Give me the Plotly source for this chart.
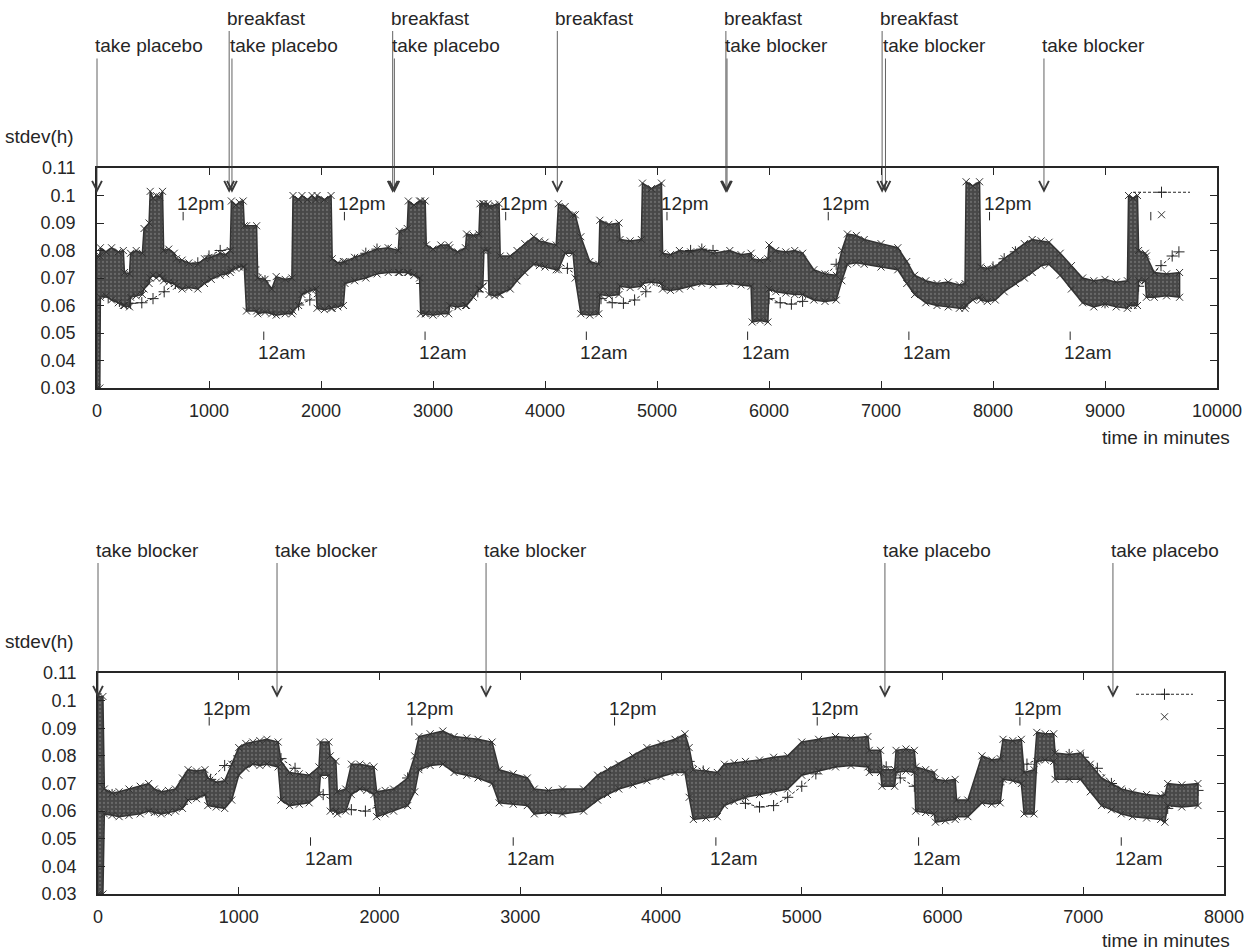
import plotly.graph_objects as go

FONT = "Liberation Sans, Arial, Helvetica, sans-serif"
INK = "#262626"
BAND_FILL = "#484848"
BAND_EDGE = "#333333"
W, H = 1257, 952

# ---------------- upper recording (placebo -> blocker) ----------------
# envelope of the per-minute stdev(h) samples: time, lower edge, upper edge
top_t = [0, 25, 30, 80, 130, 190, 235, 245, 290, 300, 350, 405, 420, 465, 475, 500, 530, 560, 585, 595,
         640, 690, 710, 760, 820, 900, 960, 1020, 1100, 1150, 1190, 1200, 1240, 1270, 1305, 1315, 1335,
         1425, 1435, 1500, 1560, 1600, 1680, 1740, 1750, 1800, 1830, 1880, 1920, 1955, 1965, 2030, 2090,
         2100, 2150, 2200, 2215, 2300, 2400, 2500, 2600, 2690, 2700, 2770, 2780, 2830, 2880, 2890, 2930,
         2940, 3000, 3070, 3140, 3150, 3220, 3290, 3300, 3360, 3410, 3420, 3445, 3455, 3490, 3500, 3550,
         3590, 3600, 3690, 3750, 3820, 3900, 3950, 4000, 4100, 4120, 4180, 4250, 4270, 4320, 4400, 4480,
         4490, 4570, 4660, 4670, 4760, 4860, 4870, 4950, 5040, 5050, 5120, 5200, 5300, 5400, 5500, 5650,
         5750, 5840, 5850, 5920, 5990, 6000, 6060, 6150, 6230, 6300, 6400, 6500, 6600, 6650, 6700, 6780,
         6850, 7000, 7150, 7230, 7300, 7400, 7500, 7600, 7700, 7750, 7760, 7820, 7880, 7890, 7950, 8020,
         8100, 8200, 8280, 8350, 8430, 8500, 8600, 8700, 8800, 8900, 9000, 9100, 9200, 9210, 9250, 9290,
         9300, 9360, 9370, 9440, 9550, 9666]
top_lo = [0.030, 0.030, 0.063, 0.0635, 0.062, 0.061, 0.060, 0.060, 0.0595, 0.063, 0.0635, 0.064, 0.066, 0.068, 0.070, 0.071, 0.070, 0.071, 0.070, 0.069,
          0.0685, 0.068, 0.067, 0.066, 0.0665, 0.066, 0.068, 0.0695, 0.071, 0.0715, 0.072, 0.073, 0.0735, 0.074, 0.074, 0.074, 0.058,
          0.058, 0.057, 0.0575, 0.057, 0.0565, 0.057, 0.057, 0.058, 0.060, 0.064, 0.065, 0.0655, 0.066, 0.059, 0.0585, 0.059,
          0.059, 0.0595, 0.060, 0.068, 0.069, 0.070, 0.0715, 0.072, 0.072, 0.072, 0.072, 0.072, 0.071, 0.070, 0.057, 0.057,
          0.057, 0.0565, 0.057, 0.057, 0.060, 0.0595, 0.060, 0.060, 0.063, 0.066, 0.066, 0.067, 0.080, 0.080, 0.064, 0.0635,
          0.064, 0.064, 0.066, 0.069, 0.072, 0.075, 0.0745, 0.074, 0.073, 0.073, 0.079, 0.079, 0.070, 0.057, 0.0565, 0.057,
          0.064, 0.0635, 0.064, 0.067, 0.0665, 0.067, 0.068, 0.0685, 0.068, 0.066, 0.0655, 0.066, 0.067, 0.068, 0.0675, 0.068,
          0.0675, 0.067, 0.054, 0.0545, 0.054, 0.066, 0.065, 0.0645, 0.064, 0.064, 0.062, 0.0615, 0.062, 0.069, 0.075, 0.0755,
          0.075, 0.074, 0.073, 0.068, 0.064, 0.061, 0.060, 0.0595, 0.059, 0.059, 0.060, 0.062, 0.063, 0.062, 0.0615, 0.062,
          0.065, 0.068, 0.070, 0.072, 0.0745, 0.075, 0.071, 0.066, 0.061, 0.0595, 0.0605, 0.0595, 0.059, 0.060, 0.060, 0.060,
          0.069, 0.069, 0.063, 0.063, 0.0635, 0.063]
top_hi = [0.078, 0.078, 0.081, 0.0795, 0.081, 0.0795, 0.080, 0.072, 0.0715, 0.079, 0.080, 0.079, 0.088, 0.090, 0.1015, 0.099, 0.100, 0.0995, 0.1015, 0.080,
          0.0805, 0.079, 0.077, 0.0765, 0.0755, 0.075, 0.077, 0.0775, 0.079, 0.0785, 0.080, 0.098, 0.0965, 0.0975, 0.098, 0.089, 0.089,
          0.089, 0.070, 0.0695, 0.066, 0.0705, 0.0695, 0.070, 0.100, 0.0985, 0.100, 0.0985, 0.100, 0.0985, 0.100, 0.0985, 0.100,
          0.077, 0.0755, 0.076, 0.076, 0.0775, 0.079, 0.0805, 0.081, 0.080, 0.087, 0.088, 0.098, 0.0965, 0.098, 0.098, 0.098,
          0.082, 0.0805, 0.082, 0.082, 0.081, 0.0795, 0.081, 0.086, 0.0855, 0.086, 0.097, 0.097, 0.097, 0.097, 0.096, 0.0965,
          0.097, 0.078, 0.078, 0.080, 0.0825, 0.085, 0.0835, 0.083, 0.082, 0.097, 0.096, 0.093, 0.093, 0.085, 0.076, 0.075,
          0.091, 0.0895, 0.090, 0.084, 0.0835, 0.084, 0.1045, 0.1025, 0.1045, 0.079, 0.0785, 0.080, 0.0795, 0.0805, 0.079, 0.080,
          0.0785, 0.079, 0.077, 0.0765, 0.077, 0.082, 0.080, 0.0795, 0.080, 0.079, 0.073, 0.0715, 0.071, 0.080, 0.086, 0.0855,
          0.084, 0.0825, 0.081, 0.076, 0.071, 0.069, 0.068, 0.0685, 0.0675, 0.068, 0.105, 0.1035, 0.105, 0.074, 0.0735, 0.074,
          0.077, 0.080, 0.0825, 0.084, 0.0835, 0.083, 0.079, 0.0745, 0.070, 0.069, 0.0695, 0.0685, 0.069, 0.100, 0.099, 0.100,
          0.080, 0.079, 0.078, 0.072, 0.0715, 0.072]

# smooth daily fit (dashed, + markers)
top_fit_t = [0, 100, 200, 300, 400, 500, 600, 700, 800, 900, 1000, 1100, 1200, 1300, 1400, 1500, 1600, 1700,
             1800, 1900, 2000, 2100, 2200, 2300, 2400, 2500, 2600, 2700, 2800, 2900, 3000, 3100, 3200, 3300,
             3400, 3500, 3600, 3700, 3800, 3900, 4000, 4100, 4200, 4300, 4400, 4500, 4600, 4700, 4800, 4900,
             5000, 5100, 5200, 5300, 5400, 5500, 5600, 5700, 5800, 5900, 6000, 6100, 6200, 6300, 6400, 6500,
             6600, 6700, 6800, 6900, 7000, 7100, 7200, 7300, 7400, 7500, 7600, 7700, 7800, 7900, 8000, 8100,
             8200, 8300, 8400, 8500, 8600, 8700, 8800, 8900, 9000, 9100, 9200, 9300, 9400, 9500, 9600, 9660]
top_fit_v = [0.0645, 0.063, 0.0615, 0.0608, 0.061, 0.0625, 0.065, 0.068, 0.072, 0.0755, 0.078, 0.080, 0.0805, 0.0785, 0.074, 0.069, 0.064, 0.061,
             0.0602, 0.062, 0.065, 0.069, 0.073, 0.0765, 0.079, 0.0805, 0.080, 0.077, 0.073, 0.068, 0.064, 0.061, 0.0605, 0.062,
             0.065, 0.069, 0.0725, 0.0755, 0.0775, 0.0785, 0.0785, 0.0765, 0.0735, 0.0705, 0.066, 0.0625, 0.061, 0.0608, 0.062, 0.065,
             0.069, 0.073, 0.0775, 0.080, 0.0805, 0.080, 0.078, 0.0745, 0.070, 0.066, 0.0625, 0.061, 0.0605, 0.0615, 0.065, 0.0705,
             0.075, 0.078, 0.0795, 0.080, 0.0795, 0.077, 0.073, 0.068, 0.064, 0.0615, 0.061, 0.0615, 0.0645, 0.069, 0.074, 0.077,
             0.0795, 0.081, 0.0805, 0.078, 0.074, 0.069, 0.065, 0.062, 0.061, 0.0612, 0.063, 0.067, 0.071, 0.0745, 0.078, 0.0795]

top_event_t = [0, 1180, 1205, 2640, 2655, 4110, 5615, 5625, 7010, 7040, 8455]
top_event_text = ["take placebo", "breakfast", "take placebo", "breakfast", "take placebo", "breakfast",
                  "breakfast", "take blocker", "breakfast", "take blocker", "take blocker"]
top_event_row = [0, 1, 0, 1, 0, 1, 1, 0, 1, 0, 0]   # 0 = lower text line, 1 = upper text line

top_noon_t = [769, 2209, 3649, 5089, 6529, 7969, 9409]
top_noon_text = ["12pm", "12pm", "12pm", "12pm", "12pm", "12pm", ""]
top_midnight_t = [1489, 2929, 4369, 5809, 7249, 8689]
top_xticks = [0, 1000, 2000, 3000, 4000, 5000, 6000, 7000, 8000, 9000, 10000]
top_xtick_text = ["0", "1000", "2000", "3000", "4000", "5000", "6000", "7000", "8000", "9000", "10000"]

# ---------------- lower recording (blocker -> placebo) ----------------
bot_t = [0, 35, 45, 100, 150, 220, 300, 360, 400, 450, 500, 550, 600, 640, 700, 760, 780, 840, 900, 950,
         1000, 1050, 1100, 1150, 1200, 1280, 1300, 1360, 1430, 1500, 1570, 1580, 1640, 1650, 1690, 1700,
         1760, 1800, 1860, 1910, 1960, 1980, 2040, 2100, 2200, 2250, 2280, 2360, 2450, 2530, 2620, 2700,
         2800, 2850, 2950, 3050, 3100, 3200, 3300, 3450, 3550, 3620, 3700, 3800, 3900, 4000, 4100, 4170,
         4200, 4230, 4320, 4400, 4450, 4520, 4600, 4700, 4800, 4900, 5000, 5120, 5240, 5350, 5470, 5480,
         5560, 5570, 5660, 5670, 5740, 5800, 5810, 5880, 5940, 5950, 6020, 6090, 6100, 6180, 6280, 6350,
         6410, 6430, 6500, 6560, 6580, 6650, 6670, 6730, 6790, 6800, 6900, 6980, 7050, 7130, 7200, 7270,
         7350, 7450, 7550, 7580, 7600, 7700, 7815]
bot_lo = [0.030, 0.030, 0.059, 0.0585, 0.058, 0.0585, 0.059, 0.060, 0.0595, 0.059, 0.0595, 0.060, 0.061, 0.064, 0.0645, 0.066, 0.062, 0.0615, 0.061, 0.064,
          0.073, 0.0755, 0.077, 0.0765, 0.077, 0.076, 0.064, 0.062, 0.0625, 0.063, 0.066, 0.073, 0.073, 0.060, 0.060, 0.059,
          0.060, 0.066, 0.068, 0.0675, 0.066, 0.058, 0.059, 0.060, 0.062, 0.067, 0.075, 0.0765, 0.077, 0.074, 0.073, 0.072,
          0.070, 0.063, 0.0625, 0.062, 0.059, 0.0595, 0.059, 0.060, 0.064, 0.066, 0.068, 0.0695, 0.071, 0.0725, 0.074, 0.074,
          0.065, 0.057, 0.0575, 0.058, 0.062, 0.0635, 0.065, 0.066, 0.067, 0.068, 0.073, 0.0745, 0.076, 0.0765, 0.076, 0.074,
          0.074, 0.069, 0.069, 0.074, 0.0745, 0.074, 0.060, 0.0595, 0.059, 0.056, 0.0565, 0.057, 0.058, 0.058, 0.063, 0.0625,
          0.063, 0.0715, 0.071, 0.070, 0.059, 0.059, 0.078, 0.0785, 0.078, 0.0715, 0.0715, 0.0715, 0.067, 0.062, 0.0605, 0.059,
          0.058, 0.0575, 0.057, 0.056, 0.062, 0.0615, 0.062]
bot_hi = [0.1015, 0.1015, 0.068, 0.0665, 0.067, 0.068, 0.069, 0.070, 0.068, 0.067, 0.0675, 0.068, 0.072, 0.075, 0.0745, 0.075, 0.072, 0.0705, 0.071, 0.077,
          0.083, 0.0845, 0.085, 0.0855, 0.086, 0.085, 0.078, 0.074, 0.0735, 0.073, 0.076, 0.085, 0.085, 0.080, 0.078, 0.067,
          0.068, 0.077, 0.077, 0.0765, 0.076, 0.067, 0.0675, 0.068, 0.072, 0.080, 0.087, 0.088, 0.089, 0.087, 0.0865, 0.086,
          0.085, 0.075, 0.0735, 0.072, 0.068, 0.0675, 0.068, 0.068, 0.073, 0.075, 0.077, 0.080, 0.083, 0.0845, 0.086, 0.088,
          0.083, 0.075, 0.0745, 0.074, 0.077, 0.0775, 0.078, 0.0785, 0.0795, 0.080, 0.085, 0.086, 0.087, 0.0865, 0.087, 0.082,
          0.082, 0.075, 0.075, 0.082, 0.0825, 0.082, 0.076, 0.075, 0.074, 0.0715, 0.071, 0.0715, 0.064, 0.064, 0.080, 0.0785,
          0.079, 0.086, 0.0855, 0.086, 0.074, 0.075, 0.0885, 0.088, 0.088, 0.081, 0.0805, 0.081, 0.077, 0.072, 0.070, 0.068,
          0.067, 0.066, 0.0655, 0.066, 0.070, 0.0695, 0.070]

bot_fit_t = [0, 100, 200, 300, 400, 500, 600, 700, 800, 900, 1000, 1100, 1200, 1300, 1400, 1500, 1600, 1700,
             1800, 1900, 2000, 2100, 2200, 2300, 2400, 2500, 2600, 2700, 2800, 2900, 3000, 3100, 3200, 3300,
             3400, 3500, 3600, 3700, 3800, 3900, 4000, 4100, 4200, 4300, 4400, 4500, 4600, 4700, 4800, 4900,
             5000, 5100, 5200, 5300, 5400, 5500, 5600, 5700, 5800, 5900, 6000, 6100, 6200, 6300, 6400, 6500,
             6600, 6700, 6800, 6900, 7000, 7100, 7200, 7300, 7400, 7500, 7600, 7700, 7815]
bot_fit_v = [0.0695, 0.066, 0.063, 0.0612, 0.0605, 0.0608, 0.0625, 0.066, 0.0715, 0.0765, 0.080, 0.0815, 0.0815, 0.079, 0.0755, 0.0705, 0.066, 0.0625,
             0.0605, 0.060, 0.062, 0.0665, 0.072, 0.0765, 0.0795, 0.081, 0.081, 0.0795, 0.0765, 0.072, 0.067, 0.063, 0.061, 0.0605,
             0.062, 0.066, 0.0715, 0.0755, 0.078, 0.080, 0.081, 0.0805, 0.078, 0.0745, 0.0705, 0.066, 0.0628, 0.0615, 0.062, 0.065,
             0.069, 0.0735, 0.077, 0.0795, 0.0805, 0.079, 0.076, 0.072, 0.069, 0.0655, 0.0625, 0.061, 0.0618, 0.0645, 0.0695, 0.0735,
             0.077, 0.0795, 0.0805, 0.0805, 0.0795, 0.0755, 0.070, 0.0665, 0.063, 0.0612, 0.061, 0.0635, 0.0675]

bot_event_t = [0, 1272, 2757, 5591, 7211]
bot_event_text = ["take blocker", "take blocker", "take blocker", "take placebo", "take placebo"]
bot_event_row = [0, 0, 0, 0, 0]

bot_noon_t = [790, 2230, 3670, 5110, 6550]
bot_noon_text = ["12pm", "12pm", "12pm", "12pm", "12pm"]
bot_midnight_t = [1510, 2950, 4390, 5830, 7270]
bot_xticks = [0, 1000, 2000, 3000, 4000, 5000, 6000, 7000, 8000]

y_ticks = [0.03, 0.04, 0.05, 0.06, 0.07, 0.08, 0.09, 0.10, 0.11]
y_tick_text = ["0.03", "0.04", "0.05", "0.06", "0.07", "0.08", "0.09", "0.1", "0.11"]
Y_MIN, Y_MAX = 0.03, 0.11

# vertical placement of the marker labels (in stdev units)
ARROW_TIP = 0.101
ARROW_TAIL = [0.150, 0.160]
EVENT_TEXT_Y = [0.1545, 0.1645]
NOON_TICK_Y, NOON_TEXT_Y = 0.0925, 0.0970
MIDNIGHT_TICK_Y, MIDNIGHT_TEXT_Y = 0.0490, 0.0430


def to_domain(v):
    """stdev value -> fraction of the y-axis domain (may exceed 1 above the frame)"""
    return (v - Y_MIN) / (Y_MAX - Y_MIN)


fig = go.Figure()
annotations = []
label_font = dict(family=FONT, size=19, color=INK)


def add_panel(xa, ya, legend_id, t, lo, hi, fit_t, fit_v, ev_t, ev_text, ev_row,
              noon_t, noon_text, night_t):
    # fitted daily curve
    fig.add_trace(go.Scatter(
        x=fit_t, y=fit_v, xaxis=xa, yaxis=ya, mode="lines+markers", name="",
        line=dict(color=INK, width=1, dash="3px,2px"),
        marker=dict(symbol="cross-thin", size=8, line=dict(color=INK, width=1)),
        legend=legend_id, showlegend=True))
    # measured stdev(h) band
    fig.add_trace(go.Scatter(
        x=t + t[::-1], y=hi + lo[::-1], xaxis=xa, yaxis=ya, mode="lines",
        fill="toself", fillcolor=BAND_FILL, line=dict(color=BAND_EDGE, width=1.5),
        fillpattern=dict(shape=".", bgcolor=BAND_FILL, fgcolor="#8a8a8a", size=4, solidity=0.25),
        hoverinfo="skip", showlegend=False))
    fig.add_trace(go.Scatter(
        x=t + t, y=lo + hi, xaxis=xa, yaxis=ya, mode="markers", name="",
        marker=dict(symbol="x-thin", size=7, line=dict(color=BAND_EDGE, width=1)),
        legend=legend_id, showlegend=True))
    # 12pm / 12am tick marks
    fig.add_trace(go.Scatter(
        x=noon_t + night_t, y=[NOON_TICK_Y] * len(noon_t) + [MIDNIGHT_TICK_Y] * len(night_t),
        xaxis=xa, yaxis=ya, mode="markers", showlegend=False, hoverinfo="skip",
        marker=dict(symbol="line-ns", size=6, line=dict(color=INK, width=1))))

    ydom = ya + " domain"
    for tt, txt in zip(noon_t, noon_text):
        if txt:
            annotations.append(dict(x=tt, y=NOON_TEXT_Y, xref=xa, yref=ya, text=txt,
                                    showarrow=False, xanchor="left", yanchor="middle", xshift=-8,
                                    font=label_font))
    for tt in night_t:
        annotations.append(dict(x=tt, y=MIDNIGHT_TEXT_Y, xref=xa, yref=ya, text="12am",
                                showarrow=False, xanchor="left", yanchor="middle", xshift=-8,
                                font=label_font))
    for tt, txt, row in zip(ev_t, ev_text, ev_row):
        annotations.append(dict(x=tt, y=ARROW_TIP, xref=xa, yref=ya, ax=tt, ay=ARROW_TAIL[row],
                                axref=xa, ayref=ya, text="", font=dict(size=1), borderpad=0,
                                showarrow=True, arrowhead=5, arrowsize=2.4, arrowwidth=0.8,
                                arrowcolor="#3a3a3a"))
        annotations.append(dict(x=tt, y=to_domain(EVENT_TEXT_Y[row]), xref=xa, yref=ydom, text=txt,
                                showarrow=False, xanchor="left", yanchor="middle", xshift=-4,
                                font=label_font))


add_panel("x", "y", "legend", top_t, top_lo, top_hi, top_fit_t, top_fit_v,
          top_event_t, top_event_text, top_event_row, top_noon_t, top_noon_text, top_midnight_t)
add_panel("x2", "y2", "legend2", bot_t, bot_lo, bot_hi, bot_fit_t, bot_fit_v,
          bot_event_t, bot_event_text, bot_event_row, bot_noon_t, bot_noon_text, bot_midnight_t)

# axis labels
for ytxt in [1 - 137 / H, 1 - 641 / H]:
    annotations.append(dict(x=3 / W, y=ytxt, xref="paper", yref="paper", text="stdev(h)",
                            showarrow=False, xanchor="left", yanchor="middle", font=label_font))
for ytxt in [1 - 438 / H, 1 - 940 / H]:
    annotations.append(dict(x=1232 / W, y=ytxt, xref="paper", yref="paper", text="time in minutes",
                            showarrow=False, xanchor="right", yanchor="middle", font=label_font))

axis_style = dict(showline=True, linecolor=INK, linewidth=1.5, mirror="ticks", ticks="inside",
                  ticklen=7, tickwidth=1.2, tickcolor=INK, showgrid=False, zeroline=False,
                  tickfont=dict(family=FONT, size=18, color=INK))
legend_style = dict(xanchor="left", yanchor="top", bgcolor="rgba(0,0,0,0)", itemwidth=57,
                    tracegroupgap=0, font=dict(family=FONT, size=15))

fig.update_layout(
    width=W, height=H, autosize=False,
    margin=dict(l=0, r=0, t=0, b=0, autoexpand=False),
    paper_bgcolor="white", plot_bgcolor="white",
    xaxis=dict(domain=[97 / W, 1217 / W], range=[0, 10000], tickvals=top_xticks,
               ticktext=top_xtick_text, anchor="y", ticklabelstandoff=6, **axis_style),
    yaxis=dict(domain=[1 - 388 / H, 1 - 168 / H], range=[Y_MIN, Y_MAX], tickvals=y_ticks,
               ticktext=y_tick_text, anchor="x", ticklabelstandoff=16, **axis_style),
    xaxis2=dict(domain=[98 / W, 1224 / W], range=[0, 8000], tickvals=bot_xticks, anchor="y2",
                ticklabelstandoff=6, **axis_style),
    yaxis2=dict(domain=[1 - 894 / H, 1 - 673 / H], range=[Y_MIN, Y_MAX], tickvals=y_ticks,
                ticktext=y_tick_text, anchor="x2", ticklabelstandoff=16, **axis_style),
    legend=dict(x=1128 / W, y=1 - 176 / H, **legend_style),
    legend2=dict(x=1131 / W, y=1 - 678 / H, **legend_style),
    annotations=annotations,
)

fig.write_html("out.html")
